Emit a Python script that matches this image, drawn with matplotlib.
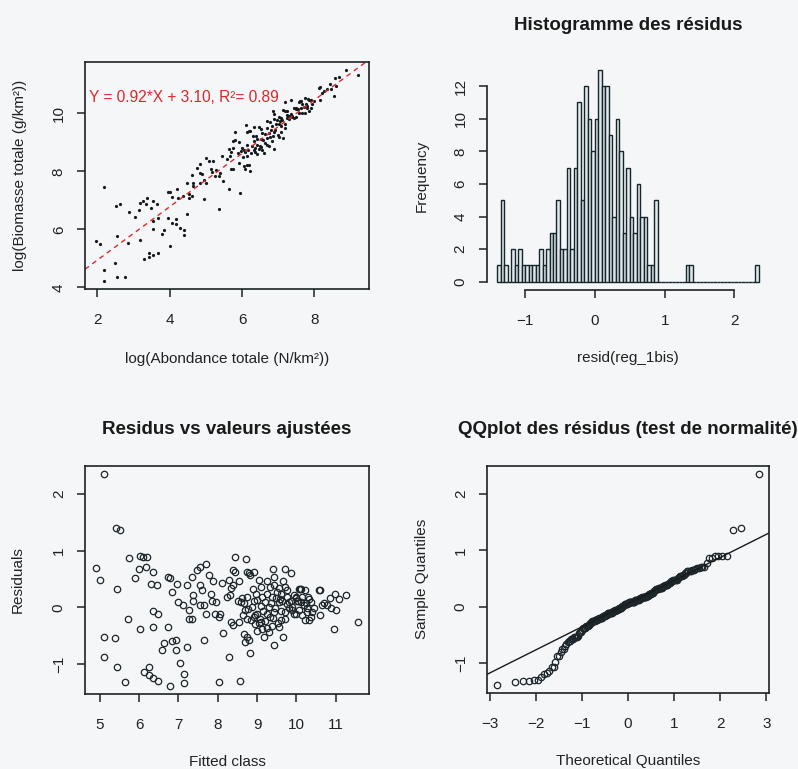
import matplotlib
matplotlib.use('Agg')
import matplotlib.pyplot as plt
import numpy as np
from statistics import NormalDist

plt.rcParams['font.family'] = ['Liberation Sans', 'DejaVu Sans']

# ---------------- data ----------------
# fitted values and residuals of the regression (panel "Residus vs valeurs ajustées")
fitted = [5.10, 4.89, 5.00, 5.41, 5.51, 5.43, 5.11, 5.38, 5.11, 5.43,
          5.65, 5.71, 5.74, 5.89, 6.00, 6.02, 6.09, 6.19, 6.17, 6.02,
          6.13, 6.25, 6.25, 6.36, 6.49, 6.30, 6.46, 6.36, 6.36, 6.49,
          6.36, 6.74, 6.62, 6.58, 6.83, 6.93, 6.93, 6.74, 6.79, 6.83,
          6.79, 6.96, 7.00, 7.11, 7.04, 7.13, 7.13, 7.21, 7.26, 7.28,
          7.23, 7.34, 7.37, 7.38, 7.34, 7.47, 7.54, 7.70, 7.55, 7.60,
          7.54, 7.64, 7.64, 7.77, 7.70, 7.83, 7.86, 7.89, 7.94, 8.02,
          8.06, 7.96, 8.02, 8.11, 8.28, 8.13, 8.28, 8.23, 8.32, 8.34,
          8.40, 8.34, 8.39, 8.40, 8.45, 8.45, 8.51, 8.56, 8.55, 8.73,
          8.74, 8.79, 8.83, 8.91, 8.70, 8.64, 8.74, 8.66, 8.74, 8.70,
          8.79, 8.81, 8.60, 8.74, 8.87, 8.93, 8.98, 8.91, 9.00, 9.07,
          8.96, 9.09, 9.00, 9.13, 9.26, 9.17, 9.09, 9.26, 9.34, 9.43,
          9.21, 9.30, 9.38, 9.26, 9.34, 9.43, 9.30, 9.38, 9.44, 9.43,
          9.51, 9.60, 9.55, 9.64, 9.60, 9.55, 9.66, 9.72, 9.87, 9.72,
          9.77, 9.77, 9.86, 9.81, 9.89, 9.72, 9.94, 9.98, 10.02, 10.06,
          10.11, 10.15, 10.06, 10.15, 10.19, 10.26, 10.11, 10.21, 10.28, 10.32,
          10.36, 10.36, 10.32, 10.57, 10.61, 10.61, 10.66, 10.79, 10.87, 10.96,
          10.97, 11.00, 11.09, 11.27, 11.58,
          # overlapping markers in the dense cloud
          9.05, 9.52, 8.85, 9.20, 9.70, 10.22, 9.40, 8.95, 10.00, 9.15,
          9.62, 10.40, 8.78, 9.45, 9.90, 10.45, 9.10, 8.68, 9.35, 9.82,
          10.25, 10.70, 9.00, 9.58, 10.05, 8.62, 9.12, 9.48, 9.75, 10.00,
          10.30, 10.85, 9.25, 9.95, 8.90, 9.55, 10.10, 8.55, 9.05, 9.65,
          9.40]
resid = [2.35, 0.70, 0.48, 1.40, 1.36, 0.33, -0.53, -0.54, -0.88, -1.06,
         -1.31, -0.20, 0.87, 0.52, 0.67, 0.90, 0.89, 0.89, 0.71, -0.38,
         -1.14, -1.06, -1.19, -1.25, -1.30, 0.42, 0.40, 0.63, -0.06, -0.11,
         -0.35, -0.35, -0.63, -0.75, -0.60, -0.58, -0.75, 0.54, 0.51, 0.27,
         -1.38, 0.42, 0.09, 0.04, -0.98, -1.17, -1.33, 0.39, -0.04, -0.20,
         -0.70, 0.54, 0.12, 0.22, -0.20, 0.65, 0.71, 0.77, 0.39, 0.30,
         0.04, 0.05, -0.58, 0.57, -0.11, 0.24, 0.12, 0.47, -0.11, -0.17,
         -0.11, 0.09, -1.32, 0.43, 0.48, -0.45, -0.88, 0.18, 0.21, 0.34,
         0.39, -0.26, -0.32, 0.65, 0.63, 0.89, 0.12, -1.30, -0.26, 0.86,
         0.63, 0.60, 0.57, 0.63, -0.05, -0.14, -0.20, -0.47, -0.53, -0.61,
         -0.58, -0.81, 0.09, 0.18, 0.01, 0.12, 0.24, -0.17, -0.11, -0.20,
         -0.29, -0.26, -0.41, -0.38, -0.37, -0.53, 0.36, 0.46, 0.36, 0.39,
         0.09, 0.01, 0.18, -0.11, -0.17, -0.08, -0.44, -0.33, -0.66, 0.54,
         0.27, 0.24, 0.09, 0.12, -0.23, -0.35, -0.52, 0.68, 0.60, 0.36,
         0.31, 0.06, 0.12, -0.02, 0.01, -0.08, -0.11, 0.18, 0.12, 0.32,
         0.09, 0.18, -0.05, -0.14, 0.04, -0.02, 0.33, 0.31, -0.08, -0.23,
         -0.17, 0.09, 0.15, 0.30, 0.31, -0.14, 0.04, 0.04, -0.02, -0.38,
         0.24, -0.05, 0.15, 0.21, -0.26,
         -0.27, -0.28, -0.22, -0.24, -0.21, -0.22, -0.18, -0.13, -0.12, -0.07,
         -0.06, -0.09, -0.03, -0.01, -0.04, -0.02, 0.03, 0.07, 0.08, 0.09,
         0.07, 0.08, 0.13, 0.14, 0.11, 0.17, 0.19, 0.16, 0.19, 0.17,
         0.19, 0.16, 0.23, 0.22, 0.33, 0.34, 0.33, 0.47, 0.48, 0.46,
         0.68]

# regression shown in the first panel
reg_slope = 0.92
reg_intercept = 3.10
reg_r2 = 0.89

# histogram of residuals (bins of 0.05 starting at -1.40)
hist_start = -1.40
hist_width = 0.05
hist_counts = [1, 5, 1, 0, 2, 1, 2, 1, 1, 1,
               1, 1, 2, 1, 2, 3, 3, 5, 2, 2,
               7, 2, 7, 11, 5, 12, 10, 8, 10, 13,
               12, 12, 9, 4, 10, 8, 3, 7, 4, 3,
               6, 4, 4, 1, 1, 5, 0, 0, 0, 0,
               0, 0, 0, 0, 1, 1, 0, 0, 0, 0,
               0, 0, 0, 0, 0, 0, 0, 0, 0, 0,
               0, 0, 0, 0, 1]

# ---------------- derived series ----------------
fitted_a = np.array(fitted)
resid_a = np.array(resid)
assert len(fitted_a) == len(resid_a)
log_abond = (fitted_a - reg_intercept) / reg_slope
log_biom = fitted_a + resid_a

n = len(resid_a)
sample_q = np.sort(resid_a)
nd = NormalDist()
theo_q = np.array([nd.inv_cdf((i + 1 - 0.5) / n) for i in range(n)])
yq = np.quantile(resid_a, [0.25, 0.75])
xq = np.array([nd.inv_cdf(0.25), nd.inv_cdf(0.75)])
qq_slope = (yq[1] - yq[0]) / (xq[1] - xq[0])
qq_int = yq[0] - qq_slope * xq[0]

edges = hist_start + hist_width * np.arange(len(hist_counts))

# ---------------- figure ----------------
W, H = 798, 769
bg = '#f4f6f7'
ink = '#1c2226'
txt = '#222222'
FS = 11
fig = plt.figure(figsize=(W / 100, H / 100), dpi=100)
fig.patch.set_facecolor(bg)


def px_axes(l, t, r, b):
    ax = fig.add_axes([l / W, 1 - b / H, (r - l) / W, (b - t) / H])
    ax.set_facecolor(bg)
    return ax, (r - l), (b - t)


def r_lim(v):
    lo, hi = float(np.min(v)), float(np.max(v))
    d = 0.04 * (hi - lo)
    return lo - d, hi + d


def style(ax, box=True):
    for s in ax.spines.values():
        s.set_color(ink)
        s.set_linewidth(1.2)
        s.set_visible(box)
    if not box:
        ax.spines['bottom'].set_visible(True)
        ax.spines['left'].set_visible(True)
    ax.tick_params(direction='out', length=5.8, width=1.1, color=ink,
                   labelsize=FS, labelcolor=txt, pad=11.5,
                   top=False, right=False)
    ax.tick_params(axis='y', labelrotation=90, pad=8)
    for lab in ax.get_yticklabels():
        lab.set_va('center')


def labels(ax, w, h, xl, yl, xoff, yoff):
    ax.set_xlabel(xl, fontsize=FS, color=txt)
    ax.xaxis.set_label_coords(0.5, -xoff / h)
    ax.xaxis.label.set_va('center')
    ax.set_ylabel(yl, fontsize=FS, color=txt)
    ax.yaxis.set_label_coords(-yoff / w, 0.5)
    ax.yaxis.label.set_va('center')


def title(ax, h, t):
    ax.text(0.5, 1 + 36 / h, t, transform=ax.transAxes, ha='center',
            va='center', fontsize=13.5, fontweight='bold', color='#1a1a1a')


# Panel 1: scatter with regression line
ax1, w1, h1 = px_axes(85, 62, 369, 289)
ax1.plot(log_abond, log_biom, 'o', ms=2.3, color='#151a1d', mew=0)
ax1.set_xlim(*r_lim(log_abond))
ax1.set_ylim(*r_lim(log_biom))
ax1.set_xticks([2, 4, 6, 8])
ax1.set_yticks([4, 6, 8, 10])
x0 = float(log_abond.min())
ax1.axline((x0, reg_intercept + reg_slope * x0), slope=reg_slope,
           color='#e0262a', lw=1.0, dashes=(3.5, 3))
ax1.text(4 / w1, 1 - 36 / h1,
         f"Y = {reg_slope:.2f}*X + {reg_intercept:.2f}, R\u00b2= {reg_r2:.2f}",
         transform=ax1.transAxes, color='#e0262a', fontsize=11.2,
         ha='left', va='center')
style(ax1)
labels(ax1, w1, h1, "log(Abondance totale (N/km\u00b2))",
       "log(Biomasse totale (g/km\u00b2))", 70, 65)

# Panel 2: histogram
ax2, w2, h2 = px_axes(486.7, 61.3, 769.3, 290.2)
ax2.bar(edges, hist_counts, width=hist_width, align='edge',
        color='#dfe8eb', edgecolor='#17252b', linewidth=1.0)
span = len(hist_counts) * hist_width
ax2.set_xlim(hist_start - 0.04 * span, hist_start + span + 0.04 * span)
top = max(hist_counts)
ax2.set_ylim(-0.04 * top, top * 1.04)
ax2.set_xticks([-1, 0, 1, 2])
ax2.set_yticks([0, 2, 4, 6, 8, 10, 12])
style(ax2, box=False)
ax2.spines['bottom'].set_bounds(-1, 2)
ax2.spines['left'].set_bounds(0, 12)
labels(ax2, w2, h2, "resid(reg_1bis)", "Frequency", 68, 65)
title(ax2, h2, "Histogramme des r\u00e9sidus")

# Panel 3: residuals vs fitted
ax3, w3, h3 = px_axes(85, 465.7, 369, 694)
ax3.plot(fitted_a, resid_a, 'o', ms=4.6, mfc='none', mec='#1c262b', mew=0.9)
ax3.set_xlim(*r_lim(fitted_a))
ax3.set_ylim(*r_lim(resid_a))
ax3.set_xticks([5, 6, 7, 8, 9, 10, 11])
ax3.set_yticks([-1, 0, 1, 2])
style(ax3)
labels(ax3, w3, h3, "Fitted class", "Residuals", 68, 67)
title(ax3, h3, "Residus vs valeurs ajust\u00e9es")

# Panel 4: QQ plot
ax4, w4, h4 = px_axes(487, 465.7, 769, 693)
ax4.plot(theo_q, sample_q, 'o', ms=4.6, mfc='none', mec='#1c262b', mew=0.9)
ax4.set_xlim(*r_lim(theo_q))
ax4.set_ylim(*r_lim(sample_q))
ax4.axline((0, qq_int), slope=qq_slope, color='#1a1a1a', lw=1.0)
ax4.set_xticks([-3, -2, -1, 0, 1, 2, 3])
ax4.set_yticks([-1, 0, 1, 2])
style(ax4)
labels(ax4, w4, h4, "Theoretical Quantiles", "Sample Quantiles", 68, 65)
title(ax4, h4, "QQplot des r\u00e9sidus (test de normalit\u00e9)")

fig.savefig('out.png', dpi=100, facecolor=bg)
